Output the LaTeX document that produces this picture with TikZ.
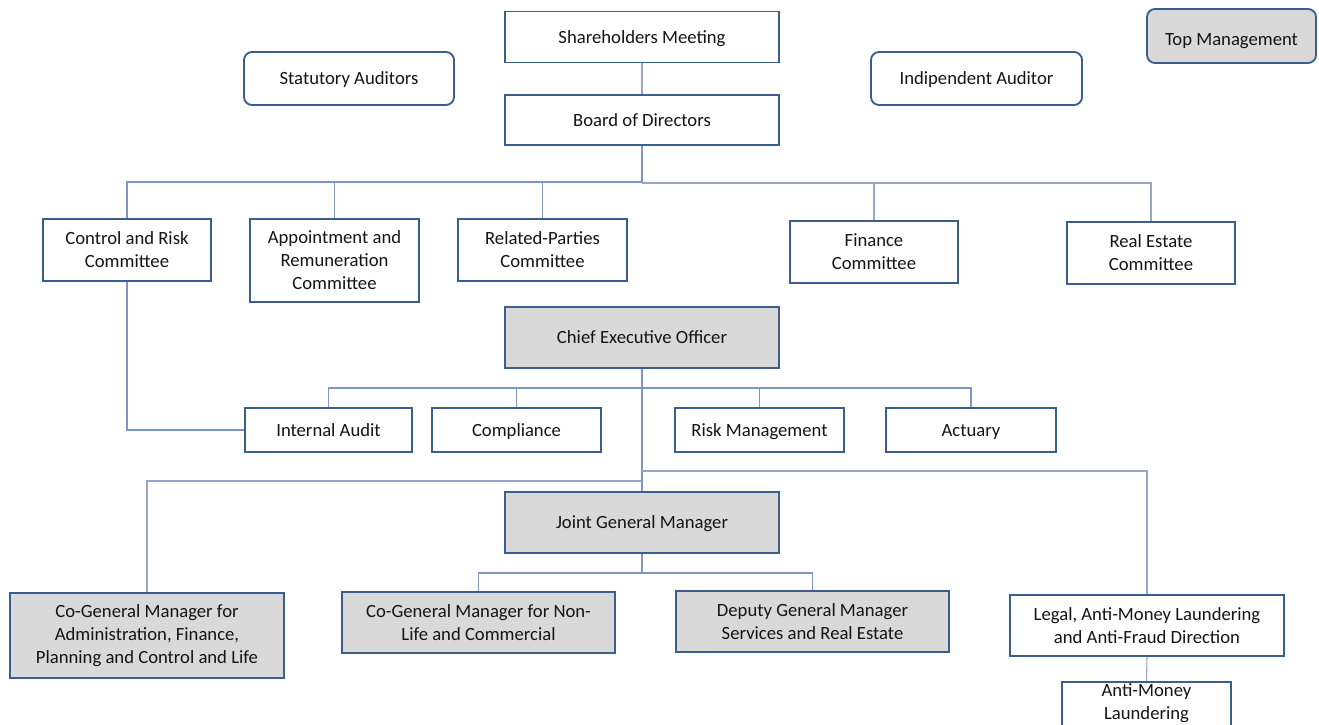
\documentclass[tikz,border=0pt]{standalone}
\usepackage{fontspec}
\setmainfont{Carlito}
\definecolor{bd}{RGB}{60,94,140}
\definecolor{ln}{RGB}{125,150,196}
\definecolor{ln2}{RGB}{150,165,195}
\definecolor{gf}{RGB}{217,217,217}
\definecolor{tx}{RGB}{20,20,20}
\newcommand{\mystrut}{\rule[-3.6pt]{0pt}{16.6pt}}
\begin{document}
\begin{tikzpicture}[x=0.75pt,y=-0.75pt,
  every node/.style={font=\fontsize{14}{17.25}\selectfont, text=tx, align=center, inner sep=0pt},
  one/.style={execute at begin node=\mystrut},
  box/.style={draw=bd, line width=1.4pt, fill=white},
  gbox/.style={box, fill=gf},
  rbox/.style={box, rounded corners=6pt},
  conn/.style={draw=ln, line width=0.8pt},
  conn2/.style={draw=ln2, line width=0.8pt}]
\useasboundingbox (0,0) rectangle (1319,724);
\clip (0,0) rectangle (1319,724);
% top
\node[box, one, minimum width=274*0.75pt, minimum height=51*0.75pt] (sm) at (642,37) {Shareholders Meeting};
\node[box, one, minimum width=274*0.75pt, minimum height=50*0.75pt] (bod) at (642,120) {Board of Directors};
\node[rbox, one, minimum width=210*0.75pt, minimum height=53*0.75pt] (sa) at (349,78.5) {Statutory Auditors};
\node[rbox, one, minimum width=211*0.75pt, minimum height=53*0.75pt] (ia2) at (976.5,78.5) {Indipendent Auditor};
\node[rbox, one, fill=gf, minimum width=169*0.75pt, minimum height=54*0.75pt] (tm) at (1231.5,36) {\rule{0pt}{18pt}Top Management};
% committees
\node[box, minimum width=168*0.75pt, minimum height=62*0.75pt] (crc) at (127,250) {Control and Risk\\Committee};
\node[box, minimum width=169*0.75pt, minimum height=83*0.75pt] (arc) at (334.5,260.5) {Appointment and\\Remuneration\\Committee};
\node[box, minimum width=169*0.75pt, minimum height=62*0.75pt] (rpc) at (542.5,250) {Related-Parties\\Committee};
\node[box, minimum width=168*0.75pt, minimum height=62*0.75pt] (fc) at (874,252) {Finance\\Committee};
\node[box, minimum width=168*0.75pt, minimum height=62*0.75pt] (rec) at (1151,253) {Real Estate\\Committee};
% CEO
\node[gbox, one, minimum width=274*0.75pt, minimum height=61*0.75pt] (ceo) at (642,337.5) {Chief Executive Officer};
\node[box, one, minimum width=167*0.75pt, minimum height=44*0.75pt] (iau) at (328.5,430) {Internal Audit};
\node[box, one, minimum width=169*0.75pt, minimum height=44*0.75pt] (cmp) at (516.5,430) {Compliance};
\node[box, one, minimum width=169*0.75pt, minimum height=44*0.75pt] (rm) at (759.5,430) {Risk Management};
\node[box, one, minimum width=170*0.75pt, minimum height=44*0.75pt] (act) at (971,430) {Actuary};
% JGM
\node[gbox, one, minimum width=274*0.75pt, minimum height=61*0.75pt] (jgm) at (642,522.5) {Joint General Manager};
\node[gbox, minimum width=274*0.75pt, minimum height=85*0.75pt] (cg1) at (147,635.5) {Co-General Manager for\\Administration, Finance,\\Planning and Control and Life};
\node[gbox, minimum width=273*0.75pt, minimum height=61*0.75pt] (cg2) at (478.5,622.5) {Co-General Manager for Non-\\Life and Commercial};
\node[gbox, minimum width=273*0.75pt, minimum height=61*0.75pt] (dgm) at (812.5,621.5) {Deputy General Manager\\Services and Real Estate};
\node[box, minimum width=274*0.75pt, minimum height=61*0.75pt] (leg) at (1147,625.5) {Legal, Anti-Money Laundering\\and Anti-Fraud Direction};
\node[box, minimum width=169*0.75pt, minimum height=66*0.75pt, anchor=north] (aml) at (1146.5,681) {};
\node (amlt) at (1146.5,703) {Anti-Money\\Laundering};
% connectors
\coordinate (b1) at (642,182);
\coordinate (b2) at (642,183);
\coordinate (c1) at (642,388);
\coordinate (c2) at (642,481);
\coordinate (c3) at (642,471);
\coordinate (j1) at (642,573);
\draw[conn2] (sm.south) -- (bod.north);
\draw[conn] (bod.south) -- (b1);
\draw[conn] (b1) -| (crc.north);
\draw[conn] (b1) -| (arc.north);
\draw[conn] (b1) -| (rpc.north);
\draw[conn2] (b2) -| (fc.north);
\draw[conn2] (b2) -| (rec.north);
\draw[conn] (ceo.south) -- (jgm.north);
\draw[conn] (c1) -| (iau.north);
\draw[conn] (c1) -| (cmp.north);
\draw[conn] (c1) -| (rm.north);
\draw[conn] (c1) -| (act.north);
\draw[conn] (crc.south) |- (iau.west);
\draw[conn2] (c2) -| (cg1.north);
\draw[conn2] (c3) -| (leg.north);
\draw[conn] (jgm.south) -- (j1);
\draw[conn] (j1) -| (cg2.north);
\draw[conn] (j1) -| (dgm.north);
\draw[conn2] (leg.south) -- (aml.north);
\end{tikzpicture}
\end{document}
